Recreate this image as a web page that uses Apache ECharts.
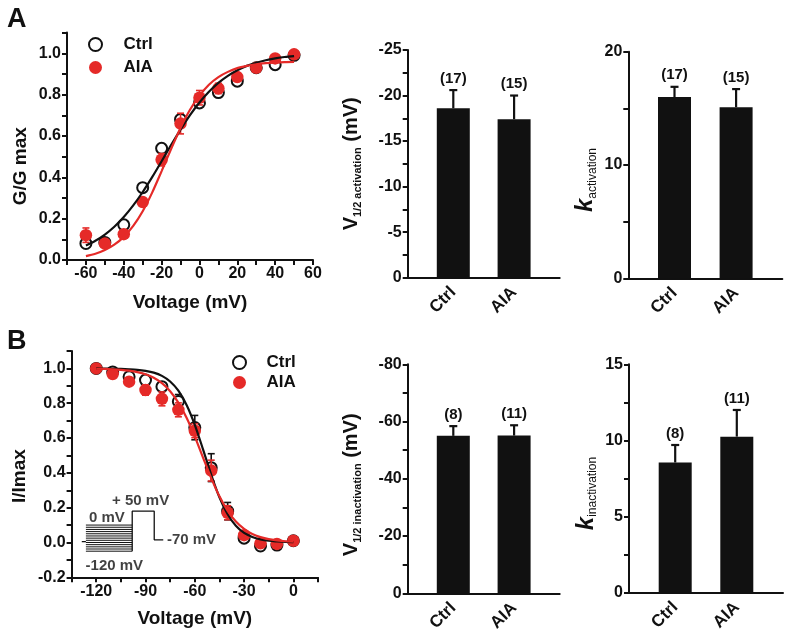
<!DOCTYPE html>
<html>
<head>
<meta charset="utf-8">
<script src="https://cdn.jsdelivr.net/npm/echarts@6/dist/echarts.min.js"></script>
<style>html,body{margin:0;padding:0;background:#fff}#c{width:787px;height:637px}</style>
</head>
<body>
<div id="c"></div>
<script>
// ---------- Panel A: activation ----------
const aVolt = [-60, -50, -40, -30, -20, -10, 0, 10, 20, 30, 40, 50];
const aCtrl = [0.08, 0.085, 0.17, 0.35, 0.54, 0.68, 0.76, 0.81, 0.865, 0.93, 0.945, 0.99];
const aCtrlErr = [0.01, 0.01, 0.01, 0.01, 0.02, 0.02, 0.02, 0.02, 0.015, 0.01, 0.01, 0.005];
const aAIA = [0.12, 0.08, 0.125, 0.28, 0.485, 0.66, 0.785, 0.83, 0.885, 0.93, 0.975, 0.995];
const aAIAErr = [0.035, 0.01, 0.02, 0.02, 0.03, 0.05, 0.035, 0.025, 0.02, 0.01, 0.01, 0.005];
const aFitV = [-60, -55, -50, -45, -40, -35, -30, -25, -20, -15, -10, -5, 0, 5, 10, 15, 20, 25, 30, 35, 40, 45, 50];
const aFitCtrl = [0.070, 0.093, 0.123, 0.161, 0.208, 0.264, 0.329, 0.401, 0.478, 0.556, 0.631, 0.701, 0.762, 0.814, 0.857, 0.891, 0.918, 0.939, 0.954, 0.966, 0.975, 0.982, 0.986];
const aFitAIA = [0.019, 0.030, 0.048, 0.074, 0.112, 0.165, 0.236, 0.326, 0.430, 0.537, 0.639, 0.727, 0.795, 0.848, 0.885, 0.910, 0.928, 0.939, 0.947, 0.952, 0.955, 0.957, 0.958];

// ---------- Panel B: inactivation ----------
const bVolt = [-120, -110, -100, -90, -80, -70, -60, -50, -40, -30, -20, -10, 0];
const bCtrl = [1.0, 0.98, 0.952, 0.933, 0.895, 0.81, 0.66, 0.43, 0.18, 0.025, -0.02, -0.015, 0.01];
const bCtrlErr = [0, 0.01, 0.01, 0.02, 0.02, 0.04, 0.07, 0.08, 0.05, 0.01, 0.01, 0.01, 0.005];
const bAIA = [1.0, 0.968, 0.924, 0.876, 0.825, 0.762, 0.642, 0.413, 0.171, 0.042, -0.005, -0.008, 0.01];
const bAIAErr = [0, 0.01, 0.02, 0.03, 0.04, 0.04, 0.04, 0.06, 0.04, 0.01, 0.01, 0.01, 0.005];
const bFitV = [-120, -115, -110, -105, -100, -95, -90, -85, -80, -75, -70, -65, -60, -55, -50, -45, -40, -35, -30, -25, -20, -15, -10, -5, 0];
const bFitCtrl = [1.0, 0.999, 0.998, 0.997, 0.995, 0.992, 0.986, 0.976, 0.957, 0.925, 0.872, 0.790, 0.676, 0.535, 0.389, 0.260, 0.162, 0.096, 0.055, 0.032, 0.018, 0.010, 0.006, 0.003, 0.002];
const bFitAIA = [0.998, 0.997, 0.995, 0.992, 0.987, 0.979, 0.966, 0.946, 0.915, 0.869, 0.803, 0.716, 0.608, 0.488, 0.370, 0.265, 0.182, 0.120, 0.078, 0.049, 0.031, 0.019, 0.012, 0.007, 0.005];

// ---------- Protocol inset (data units of panel B) ----------
const protoHatchY = [-0.05, -0.0375, -0.025, -0.0125, 0, 0.0125, 0.025, 0.0375, 0.05, 0.0625, 0.075, 0.0875, 0.1];
const protoHatchX = [-126.3, -98.1];
const protoStep = [[-98.1, -0.05], [-98.1, 0.18], [-84.7, 0.18], [-84.7, 0.015], [-79.2, 0.015]];
const protoStub = [[-128.8, 0.005], [-126.3, 0.005]];
const protoLabels = [
  { name: '+ 50 mV', value: [-93, 0.24] },
  { name: '0 mV', value: [-113.5, 0.14] },
  { name: '-70 mV', value: [-62, 0.015] },
  { name: '-120 mV', value: [-109, -0.135] }
];

// ---------- Bar panels ----------
const barCats = ['Ctrl', 'AIA'];
const barPos = [1, 2];
const v12Act = [-18.6, -17.4];
const v12ActErr = [2.0, 2.6];
const nAct = [17, 15];
const kAct = [16.0, 15.1];
const kActErr = [0.9, 1.6];
const v12Inact = [-55.0, -55.1];
const v12InactErr = [3.4, 3.6];
const nInact = [8, 11];
const kInact = [8.55, 10.25];
const kInactErr = [1.15, 1.75];

// ---------- tick label lists ----------
const aXTicks = [-60, -40, -20, 0, 20, 40, 60];
const bXTicks = [-120, -90, -60, -30, 0];

const FONT = 'Liberation Sans, Arial, Helvetica, sans-serif';
const INK = '#111111';
const RED = '#e52a28';

const chart = echarts.init(document.getElementById('c'), null, { renderer: 'canvas' });

function pairs(xs, ys) { return xs.map((x, i) => [x, ys[i]]); }
function errData(xs, ys, es) { return xs.map((x, i) => [x, ys[i] - es[i], ys[i] + es[i]]); }

function scatterErr(color) {
  return function (params, api) {
    const x = api.value(0), lo = api.value(1), hi = api.value(2);
    if (hi - lo <= 0) return null;
    const p1 = api.coord([x, lo]), p2 = api.coord([x, hi]);
    const w = 3.5;
    const st = { stroke: color, lineWidth: 1.6 };
    return {
      type: 'group', children: [
        { type: 'line', shape: { x1: p1[0], y1: p1[1], x2: p2[0], y2: p2[1] }, style: st },
        { type: 'line', shape: { x1: p1[0] - w, y1: p1[1], x2: p1[0] + w, y2: p1[1] }, style: st },
        { type: 'line', shape: { x1: p2[0] - w, y1: p2[1], x2: p2[0] + w, y2: p2[1] }, style: st }
      ]
    };
  };
}

function barErr(params, api) {
  const x = api.value(0), m = api.value(1), tip = api.value(2), n = api.value(3);
  const p1 = api.coord([x, m]), p2 = api.coord([x, tip]);
  const w = 4;
  const st = { stroke: INK, lineWidth: 2.2 };
  const children = [
    { type: 'line', shape: { x1: p1[0], y1: p1[1], x2: p2[0], y2: p2[1] }, style: st },
    { type: 'line', shape: { x1: p2[0] - w, y1: p2[1], x2: p2[0] + w, y2: p2[1] }, style: st }
  ];
  if (!isNaN(n)) {
    children.push({
      type: 'text',
      style: { text: '(' + n + ')', x: p2[0], y: p2[1] - 4, align: 'center', verticalAlign: 'bottom',
        fontSize: 15, fontWeight: 'bold', fontFamily: FONT, fill: INK }
    });
  }
  return { type: 'group', children: children };
}

function barErrData(means, errs, ns) {
  return barPos.map((x, i) => [x, means[i], means[i] + (means[i] < 0 ? -errs[i] : errs[i]), ns ? ns[i] : NaN]);
}

const axisLineStyle = { show: true, onZero: false, lineStyle: { color: INK, width: 2 } };
const tickStyle = { show: true, length: 5, lineStyle: { color: INK, width: 2 } };
const labelStyle = { color: INK, fontSize: 16, fontWeight: 'bold', fontFamily: FONT, margin: 6 };
const nameStyle = { color: INK, fontSize: 19, fontWeight: 'bold', fontFamily: FONT };

function rnd(v, d) { return Math.round(v * d) / d; }

function barXAxis(gridIndex) {
  return {
    type: 'value', gridIndex: gridIndex, min: 0.25, max: 2.75, interval: 0.25,
    axisLine: axisLineStyle, axisTick: { show: false }, splitLine: { show: false },
    axisLabel: Object.assign({}, labelStyle, {
      rotate: 45, margin: 12, fontSize: 17,
      formatter: function (v) { const i = barPos.indexOf(rnd(v, 100)); return i >= 0 ? barCats[i] : ''; }
    })
  };
}

const richV = {
  v: { fontSize: 20, fontWeight: 'bold', fontFamily: FONT, color: INK, verticalAlign: 'middle', lineHeight: 24 },
  s: { fontSize: 11, fontWeight: 'bold', fontFamily: FONT, color: INK, verticalAlign: 'bottom', lineHeight: 24 },
  k: { fontSize: 24, fontWeight: 'bold', fontStyle: 'italic', fontFamily: FONT, color: INK, verticalAlign: 'middle', lineHeight: 26 },
  ks: { fontSize: 12, fontFamily: FONT, color: INK, verticalAlign: 'bottom', lineHeight: 26 }
};

const legendText = { color: INK, fontSize: 17, fontWeight: 'bold', fontFamily: FONT };

const option = {
  backgroundColor: '#ffffff',
  animation: false,
  graphic: [
    { type: 'text', left: 7, top: 6, style: { text: 'A', fontSize: 27, fontWeight: 'bold', fontFamily: FONT, fill: INK } },
    { type: 'text', left: 7, top: 328, style: { text: 'B', fontSize: 27, fontWeight: 'bold', fontFamily: FONT, fill: INK } }
  ],
  legend: [
    { data: ['Ctrl', 'AIA'], orient: 'vertical', left: 83, top: 31, itemWidth: 46, itemHeight: 13, itemGap: 6,
      selectedMode: false, textStyle: legendText },
    { data: ['Ctrl', 'AIA'], orient: 'vertical', left: 227, top: 349, itemWidth: 44, itemHeight: 13, itemGap: 3,
      selectedMode: false, textStyle: legendText }
  ],
  grid: [
    { left: 67, top: 32.6, width: 246, height: 227.4, containLabel: false },
    { left: 71.6, top: 351, width: 246.4, height: 226.3, containLabel: false },
    { left: 407.7, top: 50, width: 152, height: 227.7, containLabel: false },
    { left: 628.3, top: 51.7, width: 154, height: 226.6, containLabel: false },
    { left: 407.7, top: 364.3, width: 152, height: 229, containLabel: false },
    { left: 629, top: 364.3, width: 154, height: 228.4, containLabel: false }
  ],
  xAxis: [
    { type: 'value', gridIndex: 0, min: -70, max: 60, interval: 10,
      axisLine: axisLineStyle, axisTick: tickStyle, splitLine: { show: false },
      axisLabel: Object.assign({}, labelStyle, { formatter: v => aXTicks.indexOf(rnd(v, 1)) >= 0 ? String(rnd(v, 1)) : '' }),
      name: 'Voltage (mV)', nameLocation: 'middle', nameGap: 33, nameTextStyle: nameStyle },
    { type: 'value', gridIndex: 1, min: -135, max: 15, interval: 15,
      axisLine: axisLineStyle, axisTick: tickStyle, splitLine: { show: false },
      axisLabel: Object.assign({}, labelStyle, { formatter: v => bXTicks.indexOf(rnd(v, 1)) >= 0 ? String(rnd(v, 1)) : '' }),
      name: 'Voltage (mV)', nameLocation: 'middle', nameGap: 32, nameTextStyle: nameStyle },
    barXAxis(2), barXAxis(3), barXAxis(4), barXAxis(5)
  ],
  yAxis: [
    { type: 'value', gridIndex: 0, min: 0, max: 1.1, interval: 0.1,
      axisLine: axisLineStyle, axisTick: tickStyle, splitLine: { show: false },
      axisLabel: Object.assign({}, labelStyle, { formatter: v => Math.round(v * 10) % 2 === 0 ? rnd(v, 10).toFixed(1) : '' }),
      name: 'G/G max', nameLocation: 'middle', nameRotate: 90, nameGap: 37,
      nameTextStyle: Object.assign({}, nameStyle, { padding: [0, 40, 0, 0] }) },
    { type: 'value', gridIndex: 1, min: -0.2, max: 1.1, interval: 0.1,
      axisLine: axisLineStyle, axisTick: tickStyle, splitLine: { show: false },
      axisLabel: Object.assign({}, labelStyle, { formatter: v => Math.round(v * 10) % 2 === 0 ? rnd(v, 10).toFixed(1) : '' }),
      name: 'I/Imax', nameLocation: 'middle', nameRotate: 90, nameGap: 42,
      nameTextStyle: Object.assign({}, nameStyle, { padding: [0, 24, 0, 0] }) },
    { type: 'value', gridIndex: 2, min: -25, max: 0, interval: 2.5, inverse: true,
      axisLine: axisLineStyle, axisTick: tickStyle, splitLine: { show: false },
      axisLabel: Object.assign({}, labelStyle, { formatter: v => Math.round(v * 10) % 50 === 0 ? String(rnd(v, 1)) : '' }),
      name: '{v|V}{s|1/2 activation}{v| (mV)}', nameLocation: 'middle', nameRotate: 90, nameGap: 44,
      nameTextStyle: { rich: richV } },
    { type: 'value', gridIndex: 3, min: 0, max: 20, interval: 5,
      axisLine: axisLineStyle, axisTick: tickStyle, splitLine: { show: false },
      axisLabel: Object.assign({}, labelStyle, { formatter: v => Math.round(v) % 10 === 0 ? String(rnd(v, 1)) : '' }),
      name: '{k|k}{ks|activation}', nameLocation: 'middle', nameRotate: 90, nameGap: 30,
      nameTextStyle: { rich: richV, padding: [0, 30, 0, 0] } },
    { type: 'value', gridIndex: 4, min: -80, max: 0, interval: 10, inverse: true,
      axisLine: axisLineStyle, axisTick: tickStyle, splitLine: { show: false },
      axisLabel: Object.assign({}, labelStyle, { formatter: v => Math.round(v) % 20 === 0 ? String(rnd(v, 1)) : '' }),
      name: '{v|V}{s|1/2 inactivation}{v| (mV)}', nameLocation: 'middle', nameRotate: 90, nameGap: 44,
      nameTextStyle: { rich: richV, padding: [0, 12, 0, 0] } },
    { type: 'value', gridIndex: 5, min: 0, max: 15, interval: 2.5,
      axisLine: axisLineStyle, axisTick: tickStyle, splitLine: { show: false },
      axisLabel: Object.assign({}, labelStyle, { formatter: v => Math.round(v * 10) % 50 === 0 ? String(rnd(v, 1)) : '' }),
      name: '{k|k}{ks|inactivation}', nameLocation: 'middle', nameRotate: 90, nameGap: 30,
      nameTextStyle: { rich: richV, padding: [0, 30, 0, 0] } }
  ],
  series: [
    // Panel A
    { type: 'custom', name: 'errCtrlA', xAxisIndex: 0, yAxisIndex: 0, data: errData(aVolt, aCtrl, aCtrlErr),
      renderItem: scatterErr(INK), encode: { x: 0, y: [1, 2] }, z: 2 },
    { type: 'scatter', name: 'Ctrl', xAxisIndex: 0, yAxisIndex: 0, data: pairs(aVolt, aCtrl),
      symbol: 'emptyCircle', symbolSize: 11, itemStyle: { color: INK, borderColor: INK, borderWidth: 1.6, opacity: 1 }, z: 3 },
    { type: 'custom', name: 'errAIAA', xAxisIndex: 0, yAxisIndex: 0, data: errData(aVolt, aAIA, aAIAErr),
      renderItem: scatterErr(RED), encode: { x: 0, y: [1, 2] }, z: 4 },
    { type: 'scatter', name: 'AIA', xAxisIndex: 0, yAxisIndex: 0, data: pairs(aVolt, aAIA),
      symbol: 'circle', symbolSize: 12.5, itemStyle: { color: RED, opacity: 1 }, z: 5 },
    { type: 'line', name: 'Ctrl fit A', xAxisIndex: 0, yAxisIndex: 0, data: pairs(aFitV, aFitCtrl),
      showSymbol: false, smooth: 0.3, lineStyle: { color: INK, width: 2.2 }, z: 6 },
    { type: 'line', name: 'AIA fit A', xAxisIndex: 0, yAxisIndex: 0, data: pairs(aFitV, aFitAIA),
      showSymbol: false, smooth: 0.3, lineStyle: { color: RED, width: 2.2 }, z: 7 },

    // Panel B
    { type: 'custom', name: 'errCtrlB', xAxisIndex: 1, yAxisIndex: 1, data: errData(bVolt, bCtrl, bCtrlErr),
      renderItem: scatterErr(INK), encode: { x: 0, y: [1, 2] }, z: 2 },
    { type: 'scatter', name: 'Ctrl', xAxisIndex: 1, yAxisIndex: 1, data: pairs(bVolt, bCtrl),
      symbol: 'emptyCircle', symbolSize: 11, itemStyle: { color: INK, borderColor: INK, borderWidth: 1.6, opacity: 1 }, z: 3 },
    { type: 'custom', name: 'errAIAB', xAxisIndex: 1, yAxisIndex: 1, data: errData(bVolt, bAIA, bAIAErr),
      renderItem: scatterErr(RED), encode: { x: 0, y: [1, 2] }, z: 4 },
    { type: 'scatter', name: 'AIA', xAxisIndex: 1, yAxisIndex: 1, data: pairs(bVolt, bAIA),
      symbol: 'circle', symbolSize: 12.5, itemStyle: { color: RED, opacity: 1 }, z: 5 },
    { type: 'line', name: 'Ctrl fit B', xAxisIndex: 1, yAxisIndex: 1, data: pairs(bFitV, bFitCtrl),
      showSymbol: false, smooth: 0.3, lineStyle: { color: INK, width: 2.2 }, z: 6 },
    { type: 'line', name: 'AIA fit B', xAxisIndex: 1, yAxisIndex: 1, data: pairs(bFitV, bFitAIA),
      showSymbol: false, smooth: 0.3, lineStyle: { color: RED, width: 2.2 }, z: 7 },

    // Protocol inset
    { type: 'custom', name: 'protocol', xAxisIndex: 1, yAxisIndex: 1, data: protoHatchY.map(y => [protoHatchX[0], y, protoHatchX[1], y]),
      renderItem: function (params, api) {
        const p1 = api.coord([api.value(0), api.value(1)]), p2 = api.coord([api.value(2), api.value(3)]);
        return { type: 'line', shape: { x1: p1[0], y1: p1[1], x2: p2[0], y2: p2[1] }, style: { stroke: INK, lineWidth: 1 } };
      }, z: 8 },
    { type: 'line', name: 'protocolStep', xAxisIndex: 1, yAxisIndex: 1, data: protoStep,
      showSymbol: false, lineStyle: { color: INK, width: 1.3 }, z: 8 },
    { type: 'line', name: 'protocolStub', xAxisIndex: 1, yAxisIndex: 1, data: protoStub,
      showSymbol: false, lineStyle: { color: INK, width: 1.3 }, z: 8 },
    { type: 'scatter', name: 'protocolLabels', xAxisIndex: 1, yAxisIndex: 1, data: protoLabels,
      symbolSize: 0, silent: true, z: 9,
      label: { show: true, position: 'inside', formatter: '{b}', color: INK, fontSize: 15, fontWeight: 'bold', fontFamily: FONT } },

    // Bars: V1/2 activation
    { type: 'bar', name: 'v12Act', xAxisIndex: 2, yAxisIndex: 2, data: pairs(barPos, v12Act), barWidth: 33,
      itemStyle: { color: INK } },
    { type: 'custom', name: 'v12ActErr', xAxisIndex: 2, yAxisIndex: 2, data: barErrData(v12Act, v12ActErr, nAct),
      renderItem: barErr, encode: { x: 0, y: [1, 2] }, z: 3 },
    // k activation
    { type: 'bar', name: 'kAct', xAxisIndex: 3, yAxisIndex: 3, data: pairs(barPos, kAct), barWidth: 33,
      itemStyle: { color: INK } },
    { type: 'custom', name: 'kActErr', xAxisIndex: 3, yAxisIndex: 3, data: barErrData(kAct, kActErr, nAct),
      renderItem: barErr, encode: { x: 0, y: [1, 2] }, z: 3 },
    // V1/2 inactivation
    { type: 'bar', name: 'v12Inact', xAxisIndex: 4, yAxisIndex: 4, data: pairs(barPos, v12Inact), barWidth: 33,
      itemStyle: { color: INK } },
    { type: 'custom', name: 'v12InactErr', xAxisIndex: 4, yAxisIndex: 4, data: barErrData(v12Inact, v12InactErr, nInact),
      renderItem: barErr, encode: { x: 0, y: [1, 2] }, z: 3 },
    // k inactivation
    { type: 'bar', name: 'kInact', xAxisIndex: 5, yAxisIndex: 5, data: pairs(barPos, kInact), barWidth: 33,
      itemStyle: { color: INK } },
    { type: 'custom', name: 'kInactErr', xAxisIndex: 5, yAxisIndex: 5, data: barErrData(kInact, kInactErr, nInact),
      renderItem: barErr, encode: { x: 0, y: [1, 2] }, z: 3 }
  ]
};

chart.setOption(option);
</script>
</body>
</html>
